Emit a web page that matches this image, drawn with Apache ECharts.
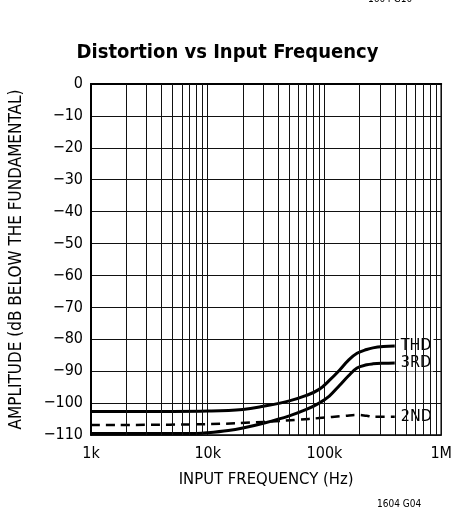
<!DOCTYPE html>
<html>
<head>
<meta charset="utf-8">
<script src="https://cdn.jsdelivr.net/npm/echarts@6/dist/echarts.min.js"></script>
<style>html,body{margin:0;padding:0;background:#fff}#c{width:455px;height:519px}</style>
</head>
<body>
<div id="c"></div>
<script>
var FONT = '"Liberation Sans Narrow","DejaVu Sans Condensed","Roboto Condensed",sans-serif';
var xTickLabels = {1000:'1k',10000:'10k',100000:'100k',1000000:'1M'};
var minorFreqs = [2000,3000,4000,5000,6000,7000,8000,9000,
  20000,30000,40000,50000,60000,70000,80000,90000,
  200000,300000,400000,500000,600000,700000,800000,900000];
var thdFreq = [1000,5000,10000,20000,30000,50000,70000,90000,110000,135000,160000,190000,230000,260000,320000,400000];
var thdVal  = [-102.6,-102.6,-102.5,-102.0,-101.0,-99.3,-97.6,-95.7,-92.9,-89.6,-86.6,-84.4,-83.2,-82.7,-82.3,-82.1];
var rd3Freq = [1000,8000,10000,15000,20000,30000,50000,70000,90000,110000,135000,160000,190000,230000,260000,320000,400000];
var rd3Val  = [-109.5,-109.5,-109.3,-108.6,-107.8,-106.3,-104.0,-102.0,-100.0,-97.8,-94.4,-91.5,-89.0,-88.0,-87.7,-87.5,-87.4];
var nd2Freq = [1000,10000,30000,60000,90000,150000,190000,230000,260000,400000];
var nd2Val  = [-106.9,-106.6,-105.9,-105.2,-104.7,-104.0,-103.7,-104.0,-104.3,-104.3];

function pairs(xs, ys){ return xs.map(function(x,i){ return [x, ys[i]]; }); }

var chart = echarts.init(document.getElementById('c'), null, {renderer:'canvas'});
function endLab(){
  return {show:true, formatter:'{a}', color:'#000', fontFamily:FONT, fontSize:16,
    backgroundColor:'#fff', padding:[1,2,0,2], distance:4};
}
chart.setOption({
  animation:false,
  backgroundColor:'#fff',
  title:{text:'Distortion vs Input Frequency', left:'center', top:38,
    textStyle:{fontFamily:FONT, fontWeight:'bold', fontSize:20, color:'#000'}},
  grid:{left:90, right:13, top:84, bottom:84, show:true, borderColor:'#000', borderWidth:1.5},
  xAxis:{type:'log', logBase:10, min:1000, max:1000000,
    name:'INPUT FREQUENCY (Hz)', nameLocation:'middle', nameGap:36,
    nameTextStyle:{fontFamily:FONT, fontSize:16.5, color:'#000'},
    axisLine:{show:true, lineStyle:{color:'#000', width:2}},
    axisTick:{show:false},
    axisLabel:{fontFamily:FONT, fontSize:16, color:'#000', margin:11,
      formatter:function(v){ return xTickLabels[Math.round(v)] || ''; }},
    splitLine:{show:true, lineStyle:{color:'#111', width:1}}},
  yAxis:{type:'value', min:-110, max:0, interval:10,
    name:'AMPLITUDE (dB BELOW THE FUNDAMENTAL)', nameLocation:'middle', nameGap:66, nameRotate:90,
    nameTextStyle:{fontFamily:FONT, fontSize:17, color:'#000'},
    axisLine:{show:true, lineStyle:{color:'#000', width:2}},
    axisTick:{show:false},
    axisLabel:{fontFamily:FONT, fontSize:16, color:'#000', margin:8,
      formatter:function(v){ return String(v).replace('-', '\u2212'); }},
    splitLine:{show:true, lineStyle:{color:'#111', width:1}}},
  series:[
    {name:'grid', type:'line', data:[], z:1, silent:true,
      markLine:{silent:true, symbol:'none', label:{show:false},
        lineStyle:{type:'solid', color:'#111', width:1},
        data:minorFreqs.map(function(f){ return {xAxis:f}; })}},
    {name:'THD', type:'line', smooth:0.4, showSymbol:false, z:3, data:pairs(thdFreq, thdVal),
      lineStyle:{color:'#000', width:3}, endLabel:endLab()},
    {name:'3RD', type:'line', smooth:0.4, showSymbol:false, z:3, data:pairs(rd3Freq, rd3Val),
      lineStyle:{color:'#000', width:3}, endLabel:endLab()},
    {name:'2ND', type:'line', smooth:0.4, showSymbol:false, z:3, data:pairs(nd2Freq, nd2Val),
      lineStyle:{color:'#000', width:2.5, type:[9,6]}, endLabel:endLab()}
  ],
  graphic:[
    {type:'text', left:368, top:-6, style:{text:'1604 G10', fontFamily:FONT, fontSize:10, fill:'#000'}},
    {type:'text', left:377, top:499, style:{text:'1604 G04', fontFamily:FONT, fontSize:10, fill:'#000'}}
  ]
});
</script>
</body>
</html>
